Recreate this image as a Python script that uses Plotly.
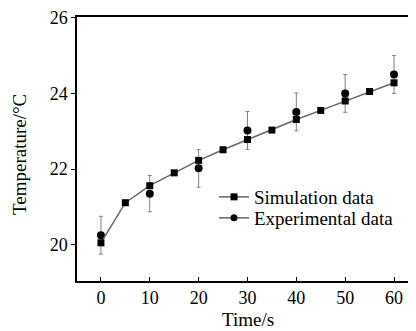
import plotly.graph_objects as go

sim_time = [0, 5, 10, 15, 20, 25, 30, 35, 40, 45, 50, 55, 60]
sim_temp = [20.05, 21.11, 21.56, 21.9, 22.23, 22.51, 22.78, 23.03, 23.31, 23.55, 23.8, 24.05, 24.28]

exp_time = [0, 10, 20, 30, 40, 50, 60]
exp_temp = [20.25, 21.35, 22.02, 23.02, 23.51, 24.0, 24.5]
exp_err = [0.5, 0.48, 0.5, 0.5, 0.5, 0.5, 0.5]

x_ticks = [0, 10, 20, 30, 40, 50, 60]
y_ticks = [20, 22, 24, 26]

FONT = "Liberation Serif, Times New Roman, serif"
LINE_COLOR = "#666666"

fig = go.Figure()

fig.add_trace(go.Scatter(
    x=exp_time, y=exp_temp, mode="markers",
    marker=dict(symbol="circle", size=8, color="black"),
    error_y=dict(type="data", array=exp_err, visible=True, color="#808080", thickness=1, width=2),
    showlegend=False, name="Experimental data",
))
fig.add_trace(go.Scatter(
    x=sim_time, y=sim_temp, mode="lines+markers",
    line=dict(color=LINE_COLOR, width=1.5),
    marker=dict(symbol="square", size=7, color="black"),
    name="Simulation data", legend="legend",
))
fig.add_trace(go.Scatter(
    x=[None], y=[None], mode="lines+markers",
    line=dict(color=LINE_COLOR, width=1.5),
    marker=dict(symbol="circle", size=7, color="black"),
    name="Experimental data", legend="legend2",
))

# page has an 8px body margin; figure is sized/offset to compensate
PLOT_TOP, PLOT_LEFT, PLOT_W, PLOT_H = 17, 77, 339, 264


def py(pix):
    return 1 - (pix - PLOT_TOP) / PLOT_H


def px(pix):
    return (pix - PLOT_LEFT) / PLOT_W


leg_common = dict(xanchor="left", yanchor="middle", bgcolor="rgba(0,0,0,0)",
                  font=dict(size=19, family=FONT), itemwidth=30)

fig.update_layout(
    width=408, height=323,
    margin=dict(l=69, r=0, t=9, b=50, autoexpand=False),
    paper_bgcolor="white", plot_bgcolor="white",
    font=dict(family=FONT, size=17, color="black"),
    showlegend=True,
    legend=dict(x=px(214), y=py(197), **leg_common),
    legend2=dict(x=px(214), y=py(218), **leg_common),
    xaxis=dict(range=[-4.9, 64.5], tickvals=x_ticks, ticks="inside", ticklen=4,
               tickcolor="black", showline=True, linecolor="black", linewidth=1.5,
               mirror=True, showgrid=False, zeroline=False, automargin=False,
               tickfont=dict(size=18)),
    yaxis=dict(range=[19.04, 26.02], tickvals=y_ticks, ticks="outside", ticklen=4,
               tickcolor="black", showline=True, linecolor="black", linewidth=1.5,
               mirror=False, showgrid=False, zeroline=False, automargin=False,
               tickfont=dict(size=18)),
    annotations=[
        dict(text="Time/s", xref="paper", yref="paper", x=px(248), y=py(319),
             xanchor="center", yanchor="middle", showarrow=False,
             font=dict(size=19, family=FONT)),
        dict(text="Temperature/°C", xref="paper", yref="paper", x=px(19), y=py(155),
             xanchor="center", yanchor="middle", showarrow=False, textangle=-90,
             font=dict(size=19, family=FONT)),
    ],
)

fig.write_html("out.html")
